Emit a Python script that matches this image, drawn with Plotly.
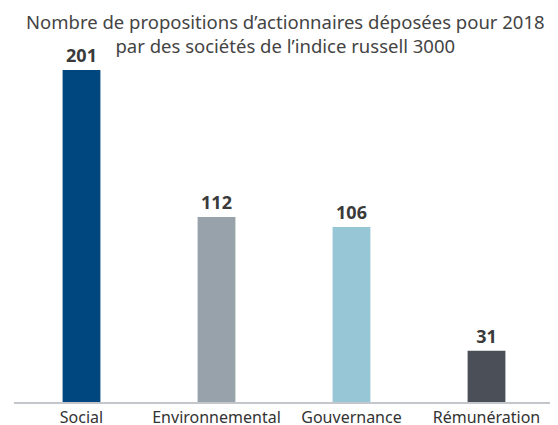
import plotly.graph_objects as go

categories = ["Social", "Environnemental", "Gouvernance", "Rémunération"]
values = [201, 112, 106, 31]
colors = ["#00467F", "#97A2AB", "#97C7D6", "#4B4F57"]
title = "Nombre de propositions d’actionnaires déposées pour 2018<br>par des sociétés de l’indice russell 3000"

fig = go.Figure(go.Bar(
    x=categories, y=values, marker_color=colors, marker_line_width=0,
    text=[str(v) for v in values], textposition="outside", cliponaxis=False,
    textfont=dict(size=18, color="#3A3A3A", family="Noto Sans"),
    texttemplate="<b>%{text}</b>",
))
fig.add_annotation(
    text=title, xref="paper", yref="paper", x=0.502, y=(394 + 1) / 332,
    xanchor="center", yanchor="top", showarrow=False,
    font=dict(size=18.5, color="#444444", family="Noto Sans"),
)
fig.update_layout(
    width=558, height=425,
    margin=dict(l=6, r=12, t=62, b=31, autoexpand=False),
    paper_bgcolor="white", plot_bgcolor="white",
    bargap=0.72,
    showlegend=False,
    font=dict(family="Noto Sans", color="#333333"),
    xaxis=dict(showline=True, linecolor="#C3C7CB", linewidth=2, ticks="",
               ticklabelstandoff=0, automargin=False,
               tickfont=dict(size=16, color="#333333"), showgrid=False),
    yaxis=dict(range=[0, 201], visible=False, showgrid=False, automargin=False),
)
fig.write_html("out.html")
